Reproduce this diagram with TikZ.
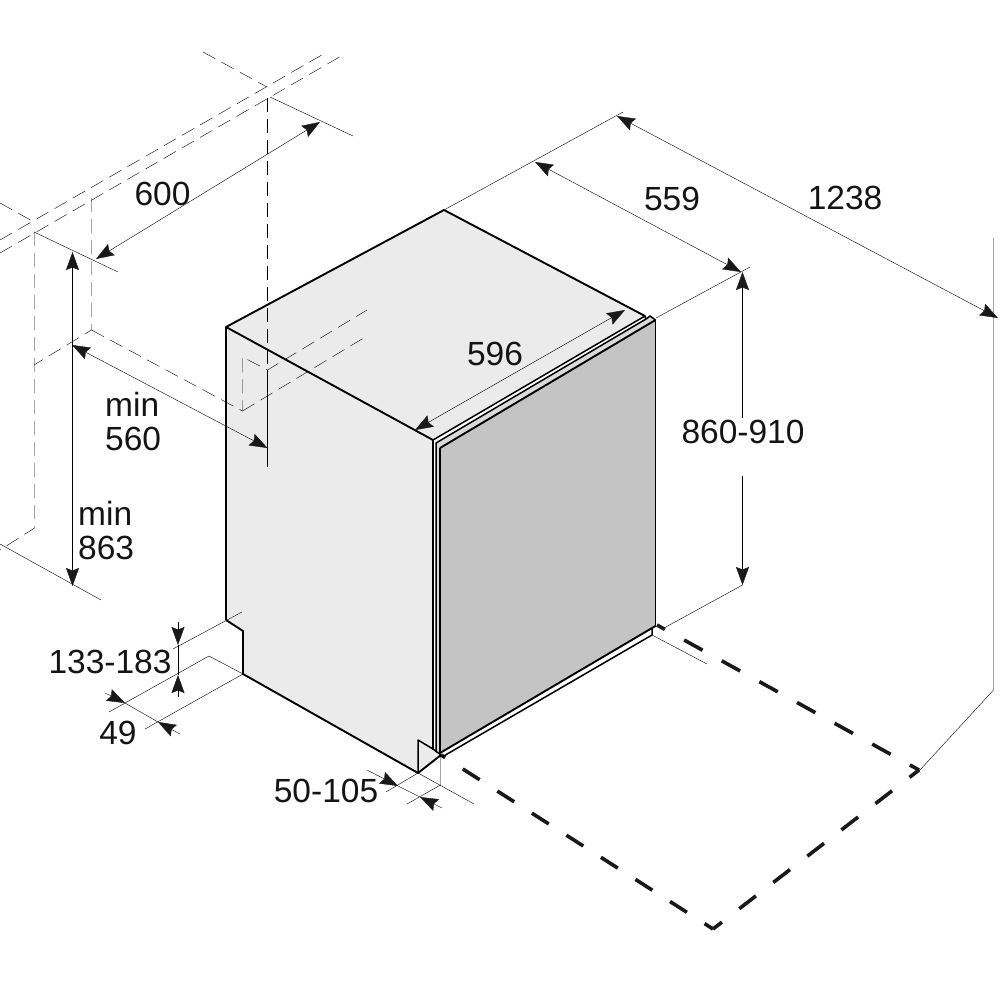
\documentclass[tikz,border=0pt]{standalone}
\usepackage{fontspec}
\setmainfont{Liberation Sans}
\usetikzlibrary{arrows.meta}
\definecolor{sidegrey}{HTML}{EBEBEB}
\definecolor{doorgrey}{HTML}{C4C4C4}
\definecolor{bandgrey}{HTML}{DADADA}
\definecolor{thin}{HTML}{404040}
\tikzset{
  edge/.style={line width=1.9pt,black,line join=round},
  edgethin/.style={line width=1.5pt,black,line join=round},
  ext/.style={line width=0.85pt,thin},
  dimline/.style={line width=0.85pt,thin},
  dimboth/.style={dimline,{Stealth[length=18pt,width=13pt,inset=2.5pt,black!90]}-{Stealth[length=18pt,width=13pt,inset=2.5pt,black!90]}},
  dimto/.style={dimline,-{Stealth[length=18pt,width=13pt,inset=2.5pt,black!90]}},
  hid/.style={line width=0.85pt,thin,dash pattern=on 14pt off 7pt},
  floorline/.style={line width=3.6pt,black!90},
  dimtext/.style={font=\fontsize{33.5}{34}\selectfont,text=black!92,inner sep=0pt,align=left}
}
\begin{document}
\begin{tikzpicture}[x=1pt,y=-1pt]
\useasboundingbox (0,0) rectangle (1000,1000);
% named corners
\coordinate (A) at (226,327);
\coordinate (B) at (444,210);
\coordinate (R) at (645,316);
\coordinate (C) at (433,440);
\coordinate (N1) at (226,620);
\coordinate (N2) at (243,631);
\coordinate (N3) at (243,674);
\coordinate (F) at (418,773);
\coordinate (N4) at (418,740);
\coordinate (N5) at (433,749);
\coordinate (G) at (441,755);
\coordinate (DT) at (655.5,320);
\coordinate (DB) at (655.5,626);
% faces
\fill[sidegrey] (A) -- (B) -- (R) -- (C) -- cycle;
\fill[sidegrey] (A) -- (C) -- (433,745) -- (N5) -- (G) -- (F) -- (N3) -- (N2) -- (N1) -- cycle;
\fill[white] (433,440) -- (R) -- (DT) -- (DB) -- (652,635) -- (442,757) -- (433,750) -- cycle;
\fill[bandgrey] (436,443) -- (646,319) -- (650,316) -- (DT) -- (440,448) -- (440,752) -- (436,752) -- cycle;
\fill[doorgrey] (440,448) -- (DT) -- (DB) -- (440,752) -- cycle;
% floor
\coordinate (P1) at (657,625);
\coordinate (P2) at (919,770);
\coordinate (P3) at (713,929);
\coordinate (P4) at (441,755);
\draw[floorline,dash pattern=on 21pt off 22pt,dash phase=12pt] (P1) -- (P2);
\draw[floorline,dash pattern=on 21pt off 22pt,dash phase=9pt] (P2) -- (P3);
\draw[floorline,dash pattern=on 20pt off 21pt,dash phase=10pt] (P3) -- (P4);
% body edges
\draw[edge] (N1) -- (A) -- (B) -- (R);
\draw[edge] (A) -- (C);
\draw[edge] (N1) -- (N2) -- (N3) -- (F);
\draw[edgethin] (F) -- (N4) -- (N5) -- (G);
\draw[edge] (F) -- (G);
% door
\draw[edgethin] (C) -- (R) -- (646,319) -- (436,443) -- (436,752);
\draw[edge] (C) -- (433,750);
\draw[edgethin] (646,319) -- (650,316) -- (DT);
\draw[edge] (440,448) -- (DT);
\draw[edge] (440,448) -- (440,753);
\draw[edge] (DT) -- (DB);
\draw[edge] (440,753) -- (DB);
\draw[edgethin] (442,757) -- (652,635) -- (652,629);
% hidden lines
\coordinate (H1a) at (0,240); \coordinate (H1b) at (327,52);
\coordinate (H2a) at (0,253); \coordinate (H2b) at (343,55);
\draw[hid] (H1a) -- (H1b);
\draw[hid] (H2a) -- (H2b);
\coordinate (Xa) at (203,52); \coordinate (Xb) at (267,87);
\coordinate (Ya) at (0,203); \coordinate (Yb) at (34,222);
\draw[hid] (Xa) -- (Xb);
\draw[hid] (Ya) -- (Yb);
\coordinate (V1t) at (34.5,232); \coordinate (V1b) at (34.5,528); \coordinate (V1e) at (0,550);
\draw[hid] (V1t) -- (V1b) -- (V1e);
\coordinate (V2t) at (91.5,198); \coordinate (V2b) at (91.5,330); \coordinate (V2e) at (34,365);
\draw[hid] (V2t) -- (V2b) -- (V2e);
\coordinate (U1) at (242.5,411); \coordinate (U2) at (242.5,357); \coordinate (U3) at (267.5,370);
\coordinate (U4) at (367,310); \coordinate (U5) at (367,336);
\draw[hid] (V2b) -- (U1) -- (U2) -- (U3) -- (U4);
\draw[hid] (U1) -- (U5);
\coordinate (V3t) at (267.5,98);
\draw[hid] (V3t) -- (U3);
\coordinate (V3b) at (267.5,467);
\draw[ext] (U3) -- (V3b);
% 600
\coordinate (E1a) at (34,232); \coordinate (E1b) at (118,272);
\coordinate (E2a) at (270,97); \coordinate (E2b) at (353,136);
\draw[ext] (E1a) -- (E1b);
\draw[ext] (E2a) -- (E2b);
\coordinate (D600a) at (96,259); \coordinate (D600b) at (320,122);
\draw[dimboth] (D600a) -- (D600b);
\node[dimtext] (t600) at (162.5,194) {600};
% min 560
\coordinate (D560a) at (72,345); \coordinate (D560b) at (267.5,448);
\draw[dimboth] (D560a) -- (D560b);
\node[dimtext,anchor=north west] (t560) at (105,392) {min\\560};
% min 863
\coordinate (D863a) at (72.5,252); \coordinate (D863b) at (72.5,586);
\draw[dimboth] (D863a) -- (D863b);
\coordinate (E3a) at (0,544); \coordinate (E3b) at (101,600);
\draw[ext] (E3a) -- (E3b);
\node[dimtext,anchor=north west] (t863) at (78,501) {min\\863};
% 1238, 559
\coordinate (E4b) at (623,112);
\draw[ext] (B) -- (E4b);
\coordinate (D1238a) at (617,116); \coordinate (D1238b) at (998,318);
\draw[dimboth] (D1238a) -- (D1238b);
\coordinate (E5a) at (993.5,238); \coordinate (E5b) at (993.5,690); \coordinate (E5c) at (919,771);
\draw[ext] (E5a) -- (E5b) -- (E5c);
\node[dimtext] (t1238) at (845,198) {1238};
\coordinate (D559a) at (535,162); \coordinate (D559b) at (741,272);
\draw[dimboth] (D559a) -- (D559b);
\node[dimtext] (t559) at (672,199) {559};
\coordinate (E6a) at (656,318); \coordinate (E6b) at (750,267);
\draw[ext] (E6a) -- (E6b);
% 860-910
\coordinate (H1) at (742.5,272); \coordinate (H2) at (742.5,418);
\coordinate (H3) at (742.5,476); \coordinate (H4) at (742.5,585);
\draw[dimto] (H2) -- (H1);
\draw[dimto] (H3) -- (H4);
\coordinate (E7a) at (664,628);
\draw[ext] (E7a) -- (H4);
\coordinate (E8a) at (652,635); \coordinate (E8b) at (707,664);
\draw[ext] (E8a) -- (E8b);
\node[dimtext] (t860) at (743,432) {860-910};
% 596
\coordinate (D596a) at (415,430); \coordinate (D596b) at (625,310);
\draw[dimboth] (D596a) -- (D596b);
\node[dimtext] (t596) at (495,353.5) {596};
% 133-183
\coordinate (K1) at (178,622); \coordinate (K2) at (178,645);
\coordinate (K3) at (178,697); \coordinate (K4) at (178,675);
\draw[dimto] (K1) -- (K2);
\draw[dimto] (K3) -- (K4);
\draw[dimline] (K2) -- (K4);
\coordinate (E9a) at (242,612); \coordinate (E9b) at (173,649);
\draw[ext] (E9a) -- (E9b);
\coordinate (E10a) at (243,674); \coordinate (E10b) at (209,656); \coordinate (E10c) at (109,712);
\draw[ext] (E10a) -- (E10b) -- (E10c);
\coordinate (E11a) at (145,729);
\draw[ext] (E10a) -- (E11a);
\node[dimtext] (t133) at (110,662) {133-183};
% 49
\coordinate (L1) at (105,693); \coordinate (L2) at (125,703);
\coordinate (L3) at (180,734); \coordinate (L4) at (158,722);
\draw[dimto] (L1) -- (L2);
\draw[dimto] (L3) -- (L4);
\draw[dimline] (L2) -- (L4);
\node[dimtext] (t49) at (118,733) {49};
% 50-105
\coordinate (M1) at (367,770); \coordinate (M2) at (398,786);
\coordinate (M3) at (442,808); \coordinate (M4) at (420,797);
\draw[dimto] (M1) -- (M2);
\draw[dimto] (M3) -- (M4);
\draw[dimline] (M2) -- (M4);
\coordinate (E12a) at (386,792);
\draw[ext] (F) -- (E12a);
\coordinate (E13a) at (440.5,757); \coordinate (E13b) at (440.5,785); \coordinate (E13c) at (407,804);
\draw[ext] (E13a) -- (E13b) -- (E13c);
\coordinate (E14) at (474,804);
\draw[ext] (F) -- (E14);
\node[dimtext] (t50) at (326,791) {50-105};
\end{tikzpicture}
\end{document}
